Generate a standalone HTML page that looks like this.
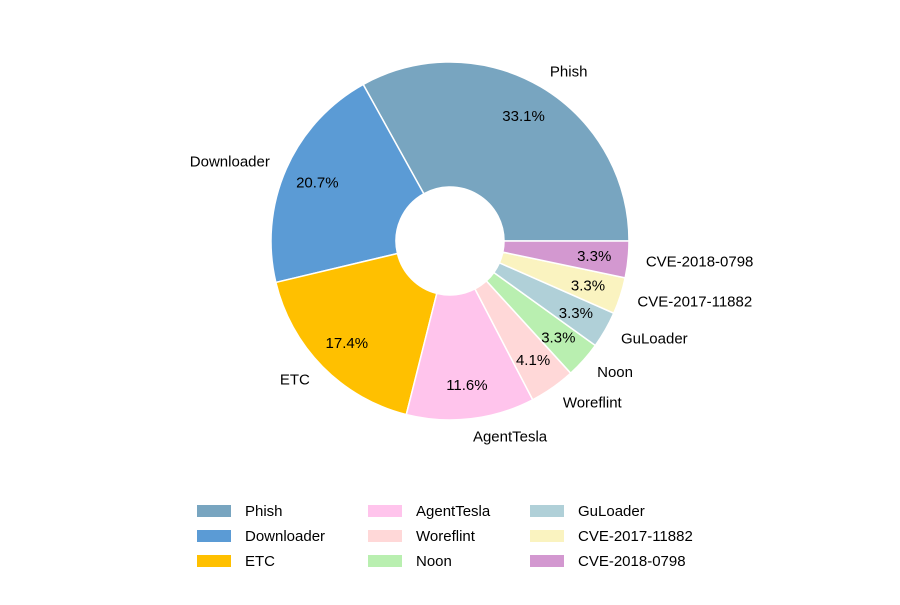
<!DOCTYPE html>
<html><head><meta charset="utf-8"><style>
body{margin:0;background:#fff}
svg text{font-family:"Liberation Sans",sans-serif;font-size:15px;fill:#000}
</style></head><body>
<svg id="chart" width="900" height="600"></svg>
<script>
const categories=["Phish","Downloader","ETC","AgentTesla","Woreflint","Noon","GuLoader","CVE-2017-11882","CVE-2018-0798"];
const values=[40,25,21,14,5,4,4,4,4];
const colors=["#78a5c0","#5b9bd5","#ffc000","#ffc4ec","#ffd8d8","#b9efb0","#b0d0d8","#faf3c0","#d398d0"];
const NS="http://www.w3.org/2000/svg";
const svg=document.getElementById('chart');
const cx=450,cy=241,R=179,r0=54;
const total=values.reduce((a,b)=>a+b,0);
function pt(a,rr){return [cx+rr*Math.cos(a),cy-rr*Math.sin(a)];}
let a0=0;
values.forEach((v,i)=>{
  const a1=a0+v/total*2*Math.PI;
  const [x1,y1]=pt(a0,R),[x2,y2]=pt(a1,R),[x3,y3]=pt(a1,r0),[x4,y4]=pt(a0,r0);
  const lg=(a1-a0)>Math.PI?1:0;
  const p=document.createElementNS(NS,'path');
  p.setAttribute('d',`M${x1},${y1}A${R},${R} 0 ${lg} 0 ${x2},${y2}L${x3},${y3}A${r0},${r0} 0 ${lg} 1 ${x4},${y4}Z`);
  p.setAttribute('fill',colors[i]);p.setAttribute('stroke','#fff');p.setAttribute('stroke-width','1.5');
  
  
  svg.appendChild(p);
  const m=(a0+a1)/2;
  const [lx,ly]=pt(m,R*1.1);
  const t=document.createElementNS(NS,'text');
  t.setAttribute('x',lx);t.setAttribute('y',ly+5);
  t.setAttribute('text-anchor',Math.cos(m)>=0?'start':'end');
  t.textContent=categories[i];
  
  
  svg.appendChild(t);
  const [px,py]=pt(m,R*0.81);
  const q=document.createElementNS(NS,'text');
  q.setAttribute('x',px);q.setAttribute('y',py+5);q.setAttribute('text-anchor','middle');
  q.textContent=(v/total*100).toFixed(1)+'%';
  
  
  svg.appendChild(q);
  a0=a1;
});
const colX=[197,368,530];
categories.forEach((c,i)=>{
  const col=Math.floor(i/3),row=i%3;
  const x=colX[col],y=511+row*25;
  const g=document.createElementNS(NS,'g');
  
  
  const rc=document.createElementNS(NS,'rect');
  rc.setAttribute('x',x);rc.setAttribute('y',y-6);rc.setAttribute('width',34);rc.setAttribute('height',12);
  rc.setAttribute('fill',colors[i]);
  
  
  const t=document.createElementNS(NS,'text');
  t.setAttribute('x',x+48);t.setAttribute('y',y+5);t.textContent=c;
  
  
  g.appendChild(rc);g.appendChild(t);svg.appendChild(g);
});
</script>
</body></html>
